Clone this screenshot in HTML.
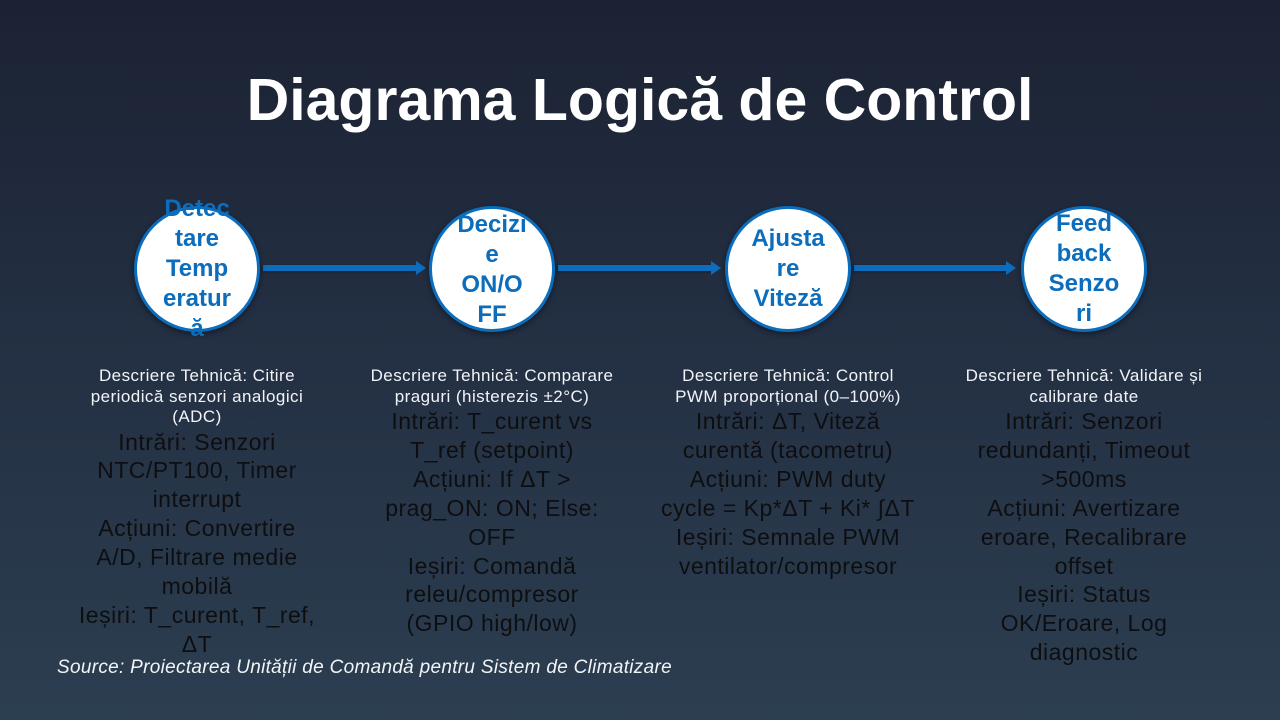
<!DOCTYPE html>
<html><head><meta charset="utf-8">
<style>
html,body{margin:0;padding:0;}
body{width:1280px;height:720px;overflow:hidden;position:relative;
background:linear-gradient(180deg,#1b2233 0%,#232f42 45%,#2c3e51 100%);
font-family:"Liberation Sans",sans-serif;}
.title{position:absolute;left:0;top:60px;width:1280px;text-align:center;color:#fff;font-weight:bold;font-size:59px;line-height:80px;white-space:nowrap;}
.circle{position:absolute;width:120px;height:120px;border:3px solid #0b6dbc;border-radius:50%;background:#fff;box-shadow:0 2px 6px rgba(0,0,0,0.45);}
.ctext{position:absolute;width:160px;height:200px;display:flex;align-items:center;justify-content:center;text-align:center;color:#0b6dbc;font-weight:bold;font-size:24px;line-height:30px;white-space:nowrap;}
.arrow{position:absolute;height:6px;background:#0b6dbc;box-shadow:0 1px 3px rgba(0,0,0,0.35);}
.arrow:after{content:"";position:absolute;right:-9px;top:-4px;border-left:10px solid #0b6dbc;border-top:7px solid transparent;border-bottom:7px solid transparent;}
.col{position:absolute;top:366px;width:300px;text-align:center;white-space:nowrap;}
.desc{color:#f2f4f7;font-size:17px;line-height:20.5px;letter-spacing:0.45px;}
.big{color:#0e0e10;font-size:23px;line-height:28.9px;letter-spacing:0.5px;margin-top:0;}
.src{position:absolute;left:57px;top:656px;color:#f2f4f7;font-style:italic;font-size:19px;line-height:24px;white-space:nowrap;letter-spacing:0.3px;}
</style></head><body>
<div class="title">Diagrama Logică de Control</div>

<div class="arrow" style="left:263px;top:265px;width:154px;"></div>
<div class="arrow" style="left:558px;top:265px;width:154px;"></div>
<div class="arrow" style="left:854px;top:265px;width:153px;"></div>

<div class="circle" style="left:134px;top:206px;"></div>
<div class="circle" style="left:429px;top:206px;"></div>
<div class="circle" style="left:725px;top:206px;"></div>
<div class="circle" style="left:1021px;top:206px;"></div>

<div class="ctext" style="left:117px;top:169px;">Detec<br>tare<br>Temp<br>eratur<br>ă</div>
<div class="ctext" style="left:412px;top:170px;">Decizi<br>e<br>ON/O<br>FF</div>
<div class="ctext" style="left:708px;top:169px;">Ajusta<br>re<br>Viteză</div>
<div class="ctext" style="left:1004px;top:169px;">Feed<br>back<br>Senzo<br>ri</div>

<div class="col" style="left:47px;">
<div class="desc">Descriere Tehnică: Citire<br>periodică senzori analogici<br>(ADC)</div>
<div class="big">Intrări: Senzori<br>NTC/PT100, Timer<br>interrupt<br>Acțiuni: Convertire<br>A/D, Filtrare medie<br>mobilă<br>Ieșiri: T_curent, T_ref,<br>ΔT</div>
</div>

<div class="col" style="left:342px;">
<div class="desc">Descriere Tehnică: Comparare<br>praguri (histerezis ±2°C)</div>
<div class="big">Intrări: T_curent vs<br>T_ref (setpoint)<br>Acțiuni: If ΔT &gt;<br>prag_ON: ON; Else:<br>OFF<br>Ieșiri: Comandă<br>releu/compresor<br>(GPIO high/low)</div>
</div>

<div class="col" style="left:638px;">
<div class="desc">Descriere Tehnică: Control<br>PWM proporțional (0–100%)</div>
<div class="big">Intrări: ΔT, Viteză<br>curentă (tacometru)<br>Acțiuni: PWM duty<br>cycle = Kp*ΔT + Ki* ∫ΔT<br>Ieșiri: Semnale PWM<br>ventilator/compresor</div>
</div>

<div class="col" style="left:934px;">
<div class="desc">Descriere Tehnică: Validare și<br>calibrare date</div>
<div class="big">Intrări: Senzori<br>redundanți, Timeout<br>&gt;500ms<br>Acțiuni: Avertizare<br>eroare, Recalibrare<br>offset<br>Ieșiri: Status<br>OK/Eroare, Log<br>diagnostic</div>
</div>

<div class="src">Source: Proiectarea Unității de Comandă pentru Sistem de Climatizare</div>
</body></html>
